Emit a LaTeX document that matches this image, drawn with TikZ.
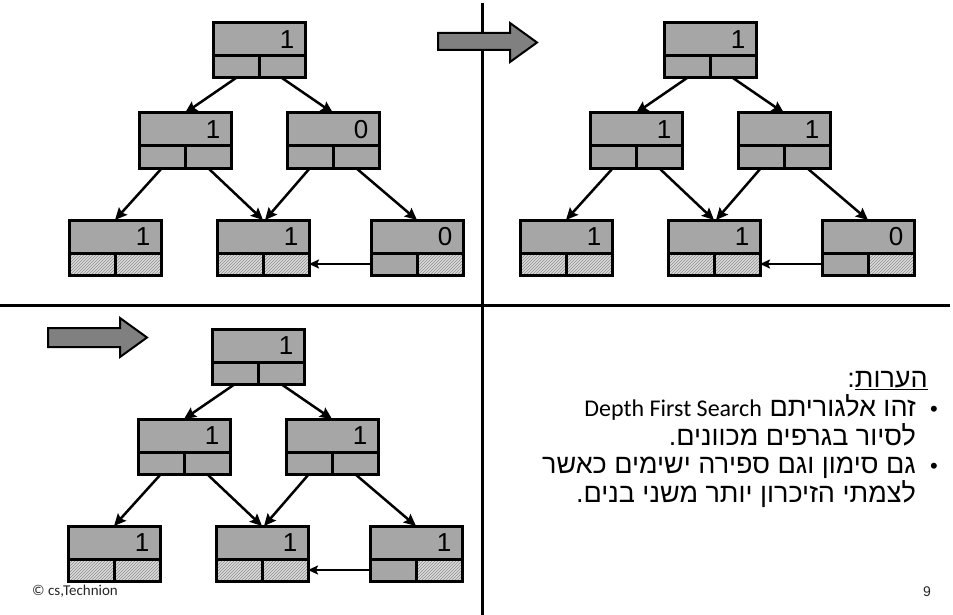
\documentclass[tikz,border=0pt]{standalone}
\usepackage{fontspec}
\setmainfont{Liberation Sans}
\newfontfamily\hebfont[Script=Hebrew]{Liberation Sans}
\newfontfamily\latfont{Carlito}
\usetikzlibrary{arrows.meta,patterns}
\TeXXeTstate=1

\definecolor{boxgray}{HTML}{A6A6A6}
\definecolor{arrowgray}{HTML}{808080}
\definecolor{hatchbg}{HTML}{DCDCDC}
\definecolor{hatchline}{HTML}{8C8C8C}
\definecolor{foottext}{HTML}{262626}

\tikzset{
  recbox/.style={draw, line width=3pt, minimum width=92pt, minimum height=55pt,
    inner sep=0pt, outer sep=0pt},
  divider/.style={line width=3pt},
  plaincell/.style={fill=boxgray},
  hatchcell/.style={fill=hatchbg, postaction={pattern=north east lines, pattern color=hatchline}},
  digit/.style={font=\fontsize{26}{30}\selectfont, inner sep=0pt},
  edge/.style={line width=2.5pt, -{Stealth[length=12pt,width=11pt,inset=2pt]}},
  link/.style={line width=2pt, -{Stealth[length=10pt,width=9pt,inset=2pt]}},
  sep/.style={line width=3pt},
  blockarrow/.style={fill=arrowgray, draw, line width=2pt, line join=miter},
  note/.style={font=\hebfont\fontsize{27}{31}\selectfont, inner sep=0pt, anchor=base east},
  bullet/.style={font=\fontsize{22}{26}\selectfont, inner sep=0pt, anchor=base},
}

% record: name, left x, top y, counter, lower-left cell style, lower-right cell style
\newcommand{\record}[6]{%
  \fill[plaincell] (#2,#3) rectangle ++(92,33);
  \fill[#5] (#2,#3+33) rectangle ++(46,22);
  \fill[#6] (#2+46,#3+33) rectangle ++(46,22);
  \draw[divider] (#2,#3+33) -- ++(92,0) (#2+46,#3+33) -- ++(0,22);
  \node[recbox, anchor=north west] (#1) at (#2,#3) {};
  \node[digit] (#1-v) at (#2+74,#3+17) {#4};
  \coordinate (#1-l) at (#2+23,#3+55);
  \coordinate (#1-r) at (#2+69,#3+55);
  \coordinate (#1-w) at (#2,#3+44);
  \coordinate (#1-e) at (#2+92,#3+44);
}

% one graph state: prefix, x offset, y offset, middle counters, bottom counter, last counter
\newcommand{\graphstate}[7]{%
  \record{#1a}{213+#2}{23+#3}{1}{plaincell}{plaincell}
  \record{#1b}{139+#2}{113+#3}{#4}{plaincell}{plaincell}
  \record{#1c}{287+#2}{113+#3}{#5}{plaincell}{plaincell}
  \record{#1d}{69+#2}{220+#3}{#6}{hatchcell}{hatchcell}
  \record{#1e}{217+#2}{220+#3}{#6}{hatchcell}{hatchcell}
  \record{#1f}{371+#2}{220+#3}{#7}{plaincell}{hatchcell}
  \draw[edge] (#1a-l) -- (#1b.north);
  \draw[edge] (#1a-r) -- (#1c.north);
  \draw[edge] (#1b-l) -- (#1d.north);
  \draw[edge] (#1b-r) -- (#1e.north);
  \draw[edge] (#1c-l) -- ([xshift=2pt]#1e.north);
  \draw[edge] (#1c-r) -- (#1f.north);
  \draw[link] (#1f-w) -- (#1e-e);
}

\begin{document}
\begin{tikzpicture}[x=1pt, y=-1pt]
  \useasboundingbox[fill=white] (0,0) rectangle (953,615);

  % quadrant separators
  \draw[sep] (482,3) -- (482,615);
  \draw[sep] (0,305) -- (950,305);

  % three states of the traversal
  \graphstate{p}{0}{0}{1}{0}{1}{0}
  \graphstate{q}{451}{0}{1}{1}{1}{0}
  \graphstate{r}{-1}{306}{1}{1}{1}{1}

  % step arrows
  \draw[blockarrow] (438,33) -- (510,33) -- (510,23) -- (537,42.5) -- (510,62)
    -- (510,50) -- (438,50) -- cycle;
  \draw[blockarrow] (48,328) -- (120,328) -- (120,318) -- (147,337.5) -- (120,357)
    -- (120,347) -- (48,347) -- cycle;

  % remarks
  \node[note] (title) at (928,387) {\beginR\underline{הערות}:\endR};
  \node[bullet] (b1) at (934,416) {•};
  \node[note] (n1) at (916,416) {\beginR זהו אלגוריתם \beginL{\latfont\fontsize{24}{28}\selectfont Depth First Search}\endL{}\endR};
  \node[note] (n2) at (916,445) {\beginR לסיור בגרפים מכוונים.\endR};
  \node[bullet] (b2) at (934,473.5) {•};
  \node[note] (n3) at (916,473.5) {\beginR גם סימון וגם ספירה ישימים כאשר\endR};
  \node[note] (n4) at (916,502) {\beginR לצמתי הזיכרון יותר משני בנים.\endR};

  % footer
  \node[font=\latfont\fontsize{15}{18}\selectfont, text=foottext, anchor=west, inner sep=0pt] (copy) at (32,591) {© cs,Technion};
  \node[font=\fontsize{14}{16}\selectfont, text=foottext, inner sep=0pt] (page) at (927,592) {9};
\end{tikzpicture}
\end{document}
